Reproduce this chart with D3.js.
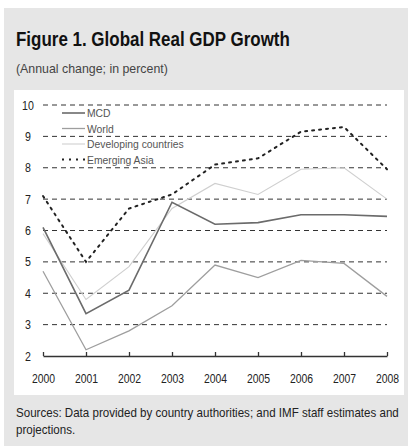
<!DOCTYPE html>
<html>
<head>
<meta charset="utf-8">
<script src="https://cdn.jsdelivr.net/npm/d3@7"></script>
<style>
  body { margin: 0; background: #fff; }
  svg { display: block; }
</style>
</head>
<body>
<div id="chart"></div>
<script>
const years = [2000, 2001, 2002, 2003, 2004, 2005, 2006, 2007, 2008];
const mcd = [6.1, 3.35, 4.1, 6.9, 6.2, 6.25, 6.5, 6.5, 6.45];
const world = [4.7, 2.2, 2.8, 3.6, 4.9, 4.5, 5.05, 4.95, 3.9];
const developing = [5.9, 3.8, 4.85, 6.7, 7.5, 7.15, 7.95, 8.0, 7.0];
const emergingAsia = [7.1, 5.0, 6.7, 7.15, 8.1, 8.3, 9.15, 9.3, 7.95];
const yTicks = [2, 3, 4, 5, 6, 7, 8, 9, 10];
const sources = ['Sources: Data provided by country authorities; and IMF staff estimates and', 'projections.'];

const series = [
    { name: 'MCD', values: mcd, color: '#6b6b6b', width: 1.6, dash: null },
    { name: 'World', values: world, color: '#9e9e9e', width: 1.3, dash: null },
    { name: 'Developing countries', values: developing, color: '#cfcfcf', width: 1.1, dash: null },
    { name: 'Emerging Asia', values: emergingAsia, color: '#222', width: 2, dash: '2,5' }
];

const W = 408, H = 446;
const font = "'Liberation Sans', Arial, sans-serif";

// squeeze text horizontally, to imitate the narrow face of the original
function squeeze(sel, k) {
    sel.each(function () {
        let len = this.getComputedTextLength();
        d3.select(this).attr('textLength', len * k).attr('lengthAdjust', 'spacingAndGlyphs');
    });
}

// same, but by scaling, to a fixed width
function fitTo(sel, w) {
    sel.each(function () {
        let el = d3.select(this);
        let k = w / this.getComputedTextLength();
        let tx = +el.attr('x'), ty = +el.attr('y');
        el.attr('x', 0).attr('y', 0)
            .attr('transform', `translate(${tx},${ty}) scale(${k},1)`);
    });
}

let svg = d3.select('#chart').append('svg')
    .attr('width', W).attr('height', H);

// panels
svg.append('rect').attr('x', 4).attr('y', 8).attr('width', W - 4).attr('height', H - 8).attr('fill', '#e6e6e6');
svg.append('rect').attr('x', 14).attr('y', 90).attr('width', 390).attr('height', 305).attr('fill', '#fff');

svg.append('text')
    .attr('x', 16).attr('y', 46)
    .attr('font-family', font).attr('font-weight', 'bold').attr('font-size', 21)
    .attr('fill', '#111')
    .text('Figure 1. Global Real GDP Growth')
    .call(fitTo, 274);

svg.append('text')
    .attr('x', 16).attr('y', 73)
    .attr('font-family', font).attr('font-size', 12.5)
    .attr('fill', '#444')
    .text('(Annual change; in percent)')
    .call(fitTo, 152);

let x = d3.scaleLinear([2000, 2008], [43, 387]);
let y = d3.scaleLinear([2, 10], [356, 105]);

// gridlines
svg.append('g')
    .selectAll('line')
    .data(yTicks.filter(d => d > 2))
    .join('line')
    .attr('x1', x(2000)).attr('x2', x(2008))
    .attr('y1', d => y(d)).attr('y2', d => y(d))
    .attr('stroke', '#333').attr('stroke-width', 1)
    .attr('stroke-dasharray', '5,4');

// y labels
svg.append('g')
    .attr('font-family', font).attr('font-size', 12.5).attr('fill', '#222')
    .selectAll('text')
    .data(yTicks)
    .join('text')
    .attr('x', 28).attr('y', d => y(d) + 4.5)
    .attr('text-anchor', 'middle')
    .text(d => d)
    .call(squeeze, 0.85);

// x axis
let xAxis = d3.axisBottom(x)
    .tickValues(years)
    .tickFormat(d3.format('d'))
    .tickSizeInner(-4)
    .tickSizeOuter(0)
    .tickPadding(18);

let gx = svg.append('g')
    .attr('transform', `translate(0,${y(2)})`)
    .call(xAxis);
gx.select('.domain').attr('stroke', '#333').attr('stroke-width', 1.3);
gx.selectAll('.tick line').attr('stroke', '#333').attr('stroke-width', 1.3);
gx.selectAll('.tick text')
    .attr('font-family', font).attr('font-size', 13).attr('fill', '#222')
    .call(squeeze, 0.8);

// lines
let line = d3.line()
    .x((d, i) => x(years[i]))
    .y(d => y(d));

svg.append('g')
    .selectAll('path')
    .data([series[2], series[1], series[0], series[3]])
    .join('path')
    .attr('d', d => line(d.values))
    .attr('fill', 'none')
    .attr('stroke', d => d.color)
    .attr('stroke-width', d => d.width)
    .attr('stroke-dasharray', d => d.dash)
    .attr('stroke-linecap', d => d.dash ? 'round' : 'butt');

// legend
let legend = svg.append('g')
    .attr('transform', 'translate(62,113)')
    .selectAll('g')
    .data(series)
    .join('g')
    .attr('transform', (d, i) => `translate(0,${i * 15.5})`);

legend.append('line')
    .attr('x1', 0).attr('x2', 23)
    .attr('stroke', d => d.color)
    .attr('stroke-width', d => d.width)
    .attr('stroke-dasharray', d => d.dash);

legend.append('text')
    .attr('x', 25).attr('y', 4)
    .attr('font-family', font).attr('font-size', 11.5).attr('fill', '#555')
    .text(d => d.name)
    .call(squeeze, 0.9);

// sources
svg.append('g')
    .attr('font-family', font).attr('font-size', 13).attr('fill', '#222')
    .selectAll('text')
    .data(sources)
    .join('text')
    .attr('x', 16).attr('y', (d, i) => 417 + i * 17)
    .text(d => d)
    .call(fitTo, 383);

// second line is short: undo its stretch, keep the same squeeze as line one
let k0 = null;
svg.selectAll('g text').filter(d => d === sources[0]).each(function () {
    k0 = 383 / this.getComputedTextLength();
});
svg.selectAll('g text').filter(d => d === sources[1])
    .attr('transform', `translate(16,434) scale(${k0},1)`);
</script>
</body>
</html>
